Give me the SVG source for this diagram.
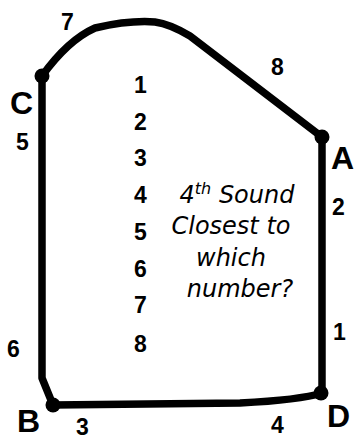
<svg xmlns="http://www.w3.org/2000/svg" width="356" height="441" viewBox="0 0 356 441">
<style>
.edge{fill:none;stroke:#000;stroke-width:7.5;stroke-linecap:round;stroke-linejoin:round}
.dot{fill:#000}
.lbl{font-family:"Liberation Sans",Arial,sans-serif;font-weight:bold;fill:#000}
.big{font-size:32px}
.num{font-size:23px}
.q{font-family:"DejaVu Sans","Noto Sans",sans-serif;font-style:italic;font-size:24px;fill:#000;text-anchor:middle}
</style>
<rect width="356" height="441" fill="#fff"/>
<g id="connectors">
<path class="edge" d="M42,76 Q68,40 95,28 Q130,20 155,22 Q170,24 190,36 L322,137"/>
<path class="edge" d="M322,137 L322,393"/>
<path class="edge" d="M322,393 Q300,400 240,403 L53,405"/>
<path class="edge" d="M53,405 L42,378 L42,76"/>
</g>
<g id="node-C"><circle class="dot" cx="42" cy="76" r="7.5"/><text class="lbl big" x="10" y="114">C</text></g>
<g id="node-A"><circle class="dot" cx="322" cy="137" r="7.5"/><text class="lbl big" x="331" y="169">A</text></g>
<g id="node-D"><circle class="dot" cx="321" cy="393" r="7.5"/><text class="lbl big" x="327" y="427">D</text></g>
<g id="node-B"><circle class="dot" cx="53" cy="405" r="7.5"/><text class="lbl big" x="17" y="432">B</text></g>
<g id="edge-labels" class="lbl num">
<text x="61" y="30">7</text>
<text x="271" y="75">8</text>
<text x="16" y="150">5</text>
<text x="332" y="215">2</text>
<text x="333" y="340">1</text>
<text x="7" y="357">6</text>
<text x="76" y="435">3</text>
<text x="271" y="433">4</text>
</g>
<g id="numbers" class="lbl num">
<text x="134" y="93">1</text>
<text x="134" y="130">2</text>
<text x="134" y="166">3</text>
<text x="134" y="203">4</text>
<text x="134" y="240">5</text>
<text x="134" y="277">6</text>
<text x="134" y="313">7</text>
<text x="134" y="352">8</text>
</g>
<g id="question">
<text class="q" x="237" y="203">4<tspan font-size="16" dy="-9">th</tspan><tspan dy="9"> Sound</tspan></text>
<text class="q" x="231" y="234">Closest to</text>
<text class="q" x="231" y="266">which</text>
<text class="q" x="240" y="297">number?</text>
</g>
</svg>
